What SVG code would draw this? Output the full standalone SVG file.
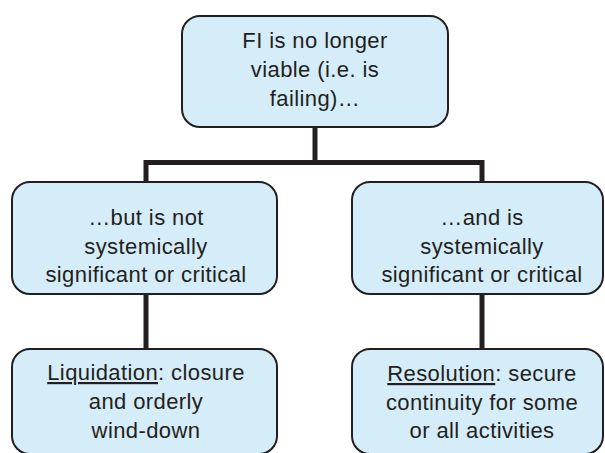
<svg xmlns="http://www.w3.org/2000/svg" width="605" height="453" viewBox="0 0 605 453">
<style>
.box{fill:#d5ecf9;stroke:#231f20;stroke-width:2}
.t{font-family:"Liberation Sans",Arial,sans-serif;font-size:22px;letter-spacing:0.4px;fill:#231f20;text-anchor:middle}
.u{text-decoration:underline}
.c{stroke:#231f20;stroke-width:5;fill:none;stroke-linecap:butt}
</style>
<rect width="605" height="453" fill="#ffffff"/>
<g id="connectors">
<path class="c" d="M315 127 V162.5 M146 162.5 H484.5 M146 160 V182 M482 160 V182"/>
<path class="c" d="M146 294 V349 M482 294 V349"/>
</g>
<g id="root">
<rect class="box" x="182" y="16" width="266" height="111" rx="18"/>
<text class="t" x="315" y="48">FI is no longer</text>
<text class="t" x="315" y="77">viable (i.e. is</text>
<text class="t" x="315" y="106">failing)…</text>
</g>
<g id="not-significant">
<rect class="box" x="12" y="182" width="265" height="112" rx="18"/>
<text class="t" x="146" y="225">…but is not</text>
<text class="t" x="146" y="254">systemically</text>
<text class="t" x="146" y="282">significant or critical</text>
</g>
<g id="significant">
<rect class="box" x="352" y="182" width="251" height="112" rx="18"/>
<text class="t" x="482" y="225">…and is</text>
<text class="t" x="482" y="254">systemically</text>
<text class="t" x="482" y="282">significant or critical</text>
</g>
<g id="liquidation">
<rect class="box" x="12" y="349" width="265" height="105" rx="18"/>
<text class="t" x="146" y="380"><tspan class="u">Liquidation</tspan>: closure</text>
<text class="t" x="146" y="409">and orderly</text>
<text class="t" x="146" y="438">wind-down</text>
</g>
<g id="resolution">
<rect class="box" x="352" y="349" width="251" height="105" rx="18"/>
<text class="t" x="482" y="381"><tspan class="u">Resolution</tspan>: secure</text>
<text class="t" x="482" y="410">continuity for some</text>
<text class="t" x="482" y="438">or all activities</text>
</g>
</svg>
